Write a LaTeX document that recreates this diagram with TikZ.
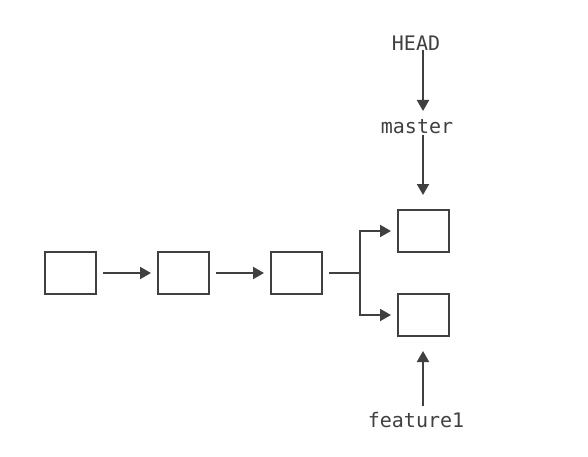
\documentclass[tikz,border=0pt]{standalone}
\usepackage{fontspec}
\setmonofont{DejaVu Sans Mono}
\usetikzlibrary{arrows.meta}
\definecolor{ink}{HTML}{404040}
\begin{document}
\begin{tikzpicture}[x=1pt,y=-1pt,
  commit/.style={draw=ink,line width=2pt,minimum width=51pt,minimum height=42pt,inner sep=0pt},
  lbl/.style={font=\ttfamily\fontsize{20}{23}\selectfont,text=ink,inner sep=0pt},
  link/.style={draw=ink,line width=2pt,-{Triangle[length=11pt,width=12pt]}},
  plain/.style={draw=ink,line width=2pt}]
\useasboundingbox (0,0) rectangle (588,457);
\node[commit] (c1) at (70.5,273) {};
\node[commit] (c2) at (183.5,273) {};
\node[commit] (c3) at (296.5,273) {};
\node[commit] (c4) at (423.5,231) {};
\node[commit] (c5) at (423.5,315) {};
\node[lbl] (head) at (416,43) {HEAD};
\node[lbl] (master) at (417,127) {master};
\node[lbl] (feat) at (416,420) {feature1};
\coordinate (fork) at (360,273);
\coordinate (headS) at (423,50);
\coordinate (masterS) at (423,135);
\coordinate (featN) at (423,406);
\draw[link] ([xshift=6pt]c1.east) -- ([xshift=-6pt]c2.west);
\draw[link] ([xshift=6pt]c2.east) -- ([xshift=-6pt]c3.west);
\draw[plain] ([xshift=6pt]c3.east) -- (fork);
\draw[link] (fork) |- ([xshift=-6pt]c4.west);
\draw[link] (fork) |- ([xshift=-6pt]c5.west);
\draw[link] (headS) -- (423,111);
\draw[link] (masterS) -- ([yshift=14pt]c4.north -| masterS);
\draw[link] (featN) -- ([yshift=-14pt]c5.south -| featN);
\end{tikzpicture}
\end{document}
